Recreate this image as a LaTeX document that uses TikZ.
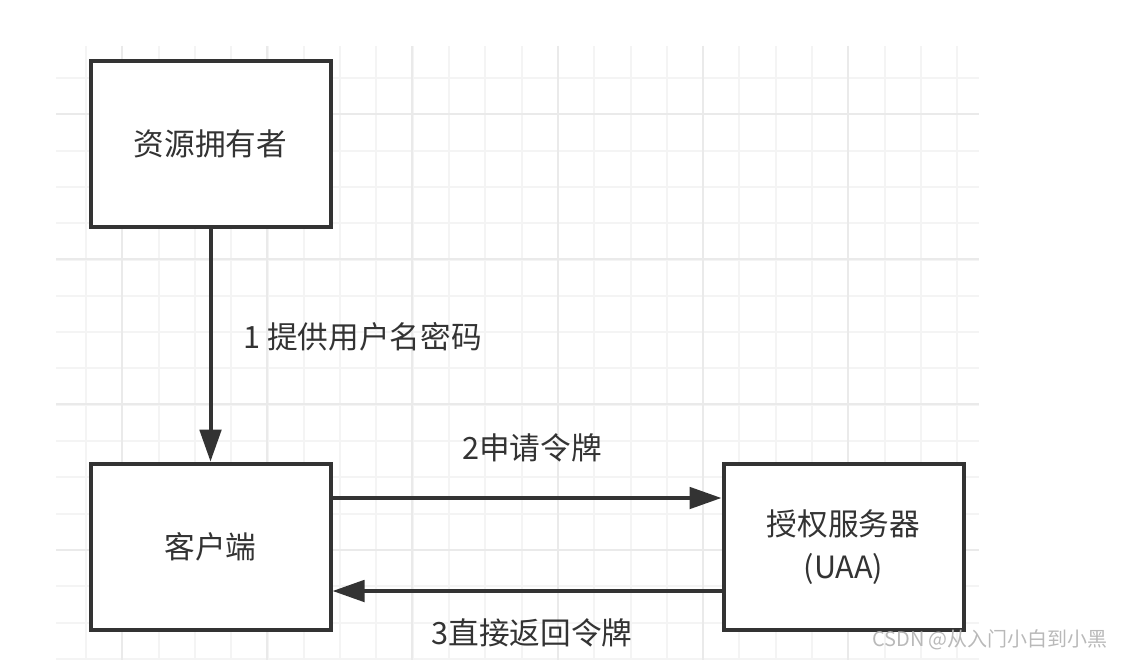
\documentclass[tikz,border=0pt]{standalone}
\usepackage{fontspec}
\setmainfont{Noto Sans CJK SC}
\usepackage{xcolor}
\usetikzlibrary{arrows.meta}

\definecolor{inkgray}{RGB}{51,51,51}
\definecolor{gridminor}{RGB}{244,244,244}
\definecolor{gridmajor}{RGB}{234,234,234}

\tikzset{
  entity/.style={draw=inkgray, line width=3pt, fill=white, minimum width=180pt, minimum height=125pt, inner sep=0pt, align=center, text=inkgray, font=\fontsize{23pt}{32pt}\selectfont},
  flow/.style={draw=inkgray, line width=3pt, -{Triangle[length=24pt,width=16pt]}},
  flowlabel/.style={inner sep=0pt, text=inkgray, font=\fontsize{23pt}{28pt}\selectfont}
}

\begin{document}
\begin{tikzpicture}[x=0.75pt,y=0.75pt,yscale=-1,xscale=1]
\useasboundingbox (0,0) rectangle (1121,660);

%Grid minor lines
\foreach \i in {0,...,24} \draw [gridminor, line width=1.5pt] ({86+36.3*\i},46) -- ({86+36.3*\i},660);
\foreach \j in {0,...,16} \draw [gridminor, line width=1.5pt] (56,{78+36.3*\j}) -- (979,{78+36.3*\j});
%Grid major lines
\foreach \i in {0,...,5} \draw [gridmajor, line width=1.5pt] ({122+145.2*\i},46) -- ({122+145.2*\i},660);
\foreach \j in {0,...,3} \draw [gridmajor, line width=1.5pt] (56,{114+145.2*\j}) -- (979,{114+145.2*\j});

%Shape: Rectangle [owner]
\node [entity] (owner) at (210.5,144) {资源拥有者};
%Shape: Rectangle [client]
\node [entity] (client) at (210.5,547) {客户端};
%Shape: Rectangle [uaa]
\node [entity] (uaa) at (843.5,547) {授权服务器\\(UAA)};

%Straight Lines
\draw [flow] (owner.south) -- (client.north);
\draw [flow] ([yshift=-36.75pt]client.east) -- ([yshift=-36.75pt]uaa.west);
\draw [flow] ([yshift=33pt]uaa.west) -- ([yshift=33pt]client.east);

% Text Node
\node [flowlabel, anchor=west] (lblone) at (243,337) {1 提供用户名密码};
% Text Node
\node [flowlabel] (lbltwo) at (532,448) {2申请令牌};
% Text Node
\node [flowlabel] (lblthree) at (532,633) {3直接返回令牌};
% Text Node
\node [inner sep=0pt, text=gray!55, font=\fontsize{15pt}{18pt}\selectfont] (mark) at (990,640) {CSDN @从入门小白到小黑};

\end{tikzpicture}
\end{document}
